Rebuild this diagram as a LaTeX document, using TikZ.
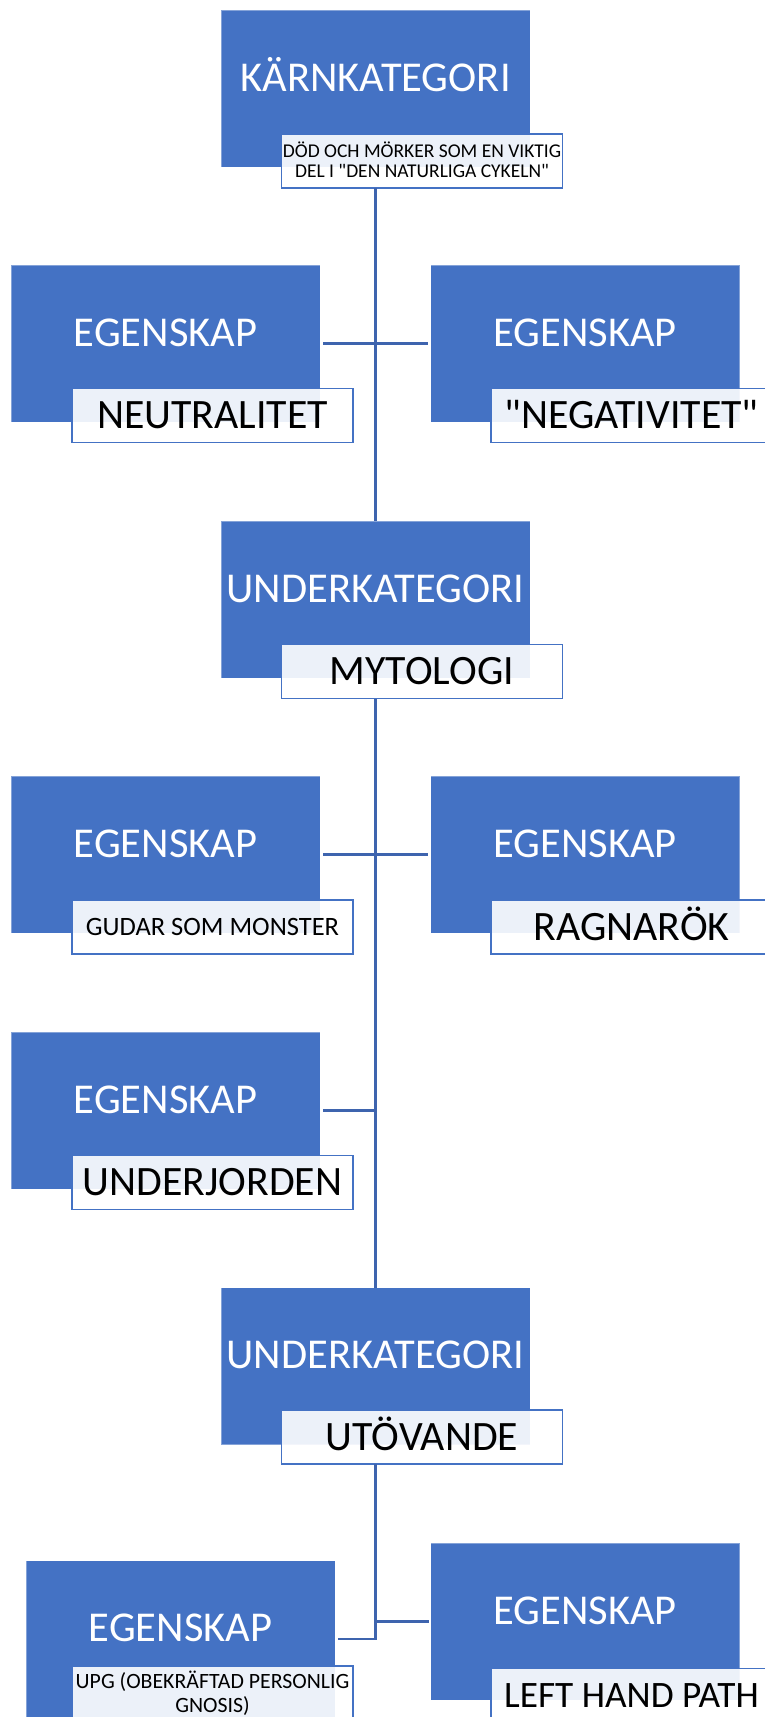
\documentclass[tikz,border=0pt]{standalone}
\usepackage{fontspec}
\setmainfont{Carlito}
\usepackage{xcolor}
\usetikzlibrary{calc}
\definecolor{accblue}{HTML}{4472C4}
\definecolor{linkblue}{HTML}{3E64AE}
\tikzset{
  every node/.style = {inner sep=0pt, outer sep=0pt}
}
\tikzset{
  catbox/.style = {fill=accblue, draw=white, draw opacity=0.35, line width=0.8pt,
    minimum width=309pt, minimum height=157pt, text=white,
    font=\fontsize{42.5}{50}\selectfont, text height=27.4pt, text depth=22pt},
  tagbox/.style = {fill=white, fill opacity=0.9, text opacity=1, draw=accblue,
    draw opacity=1, line width=1.6pt, minimum width=281pt, minimum height=54pt,
    font=\fontsize{41.8}{50}\selectfont, text height=26.9pt, text depth=0pt},
  link/.style = {draw=linkblue, line width=2.2pt}
}
\newcommand{\qt}{\textquotedbl}

\begin{document}
\begin{tikzpicture}[x=1pt,y=-1pt]
\useasboundingbox (0,0) rectangle (765,1717);
\fill[white] (0,0) rectangle (765,1717);
\clip (0,0) rectangle (765,1717);

% Columns
\def\xl{165.5}
\def\xm{375.5}
\def\xr{585}

% The boxes
\node[catbox] (karn) at (\xm,88.5) {KÄRNKATEGORI};
\node[catbox] (neu) at (\xl,343.5) {EGENSKAP};
\node[catbox] (neg) at (\xr,343.5) {EGENSKAP};
\node[catbox] (myt) at (\xm,599.5) {UNDERKATEGORI};
\node[catbox] (gud) at (\xl,854.5) {EGENSKAP};
\node[catbox] (rag) at (\xr,854.5) {EGENSKAP};
\node[catbox] (und) at (\xl,1110.5) {EGENSKAP};
\node[catbox] (utv) at (\xm,1366) {UNDERKATEGORI};
\node[catbox] (upg) at (180.5,1639) {EGENSKAP};
\node[catbox] (lhp) at (\xr,1621.5) {EGENSKAP};

% The labels
\node[tagbox, align=center, font=\fontsize{19.5}{20.5}\selectfont,
  text height=33pt, text depth=0pt] (karnlab) at (422,161)
  {DÖD OCH MÖRKER SOM EN VIKTIG\\DEL I \qt DEN NATURLIGA CYKELN\qt};
\node[tagbox] (neulab) at (212.5,415.5) {NEUTRALITET};
\node[tagbox] (neglab) at (631.5,415.5) {\qt NEGATIVITET\qt};
\node[tagbox] (mytlab) at (422,671.5) {MYTOLOGI};
\node[tagbox, font=\fontsize{26.5}{32}\selectfont, text height=17pt] (gudlab)
  at (212.5,927) {GUDAR SOM MONSTER};
\node[tagbox] (raglab) at (631.5,927) {RAGNARÖK};
\node[tagbox] (undlab) at (212.5,1182.5) {UNDERJORDEN};
\node[tagbox] (utvlab) at (422,1437) {UTÖVANDE};
\node[tagbox, align=center, font=\fontsize{21.8}{24}\selectfont,
  text height=38pt, text depth=0pt] (upglab) at (212.5,1693)
  {UPG (OBEKRÄFTAD PERSONLIG\\GNOSIS)};
\node[tagbox, font=\fontsize{37.3}{45}\selectfont, text height=24pt] (lhplab)
  at (631.5,1695.5) {LEFT HAND PATH};

% Connectors
\draw[link] (karn.center |- karnlab.south) -- (myt.north);
\draw[link] ([xshift=3pt]neu.east) -- ([xshift=-3pt]neg.west);
\draw[link] (myt.center |- mytlab.south) -- (utv.north);
\draw[link] ([xshift=3pt]gud.east) -- ([xshift=-3pt]rag.west);
\draw[link] ([xshift=3pt]und.east) -- (und.east -| myt.center);
\draw[link] (utv.center |- utvlab.south) -- (utv.center |- upg.east)
  -- ([xshift=3pt]upg.east);
\draw[link] (utv.center |- lhp.west) -- ([xshift=-2pt]lhp.west);
\end{tikzpicture}
\end{document}
